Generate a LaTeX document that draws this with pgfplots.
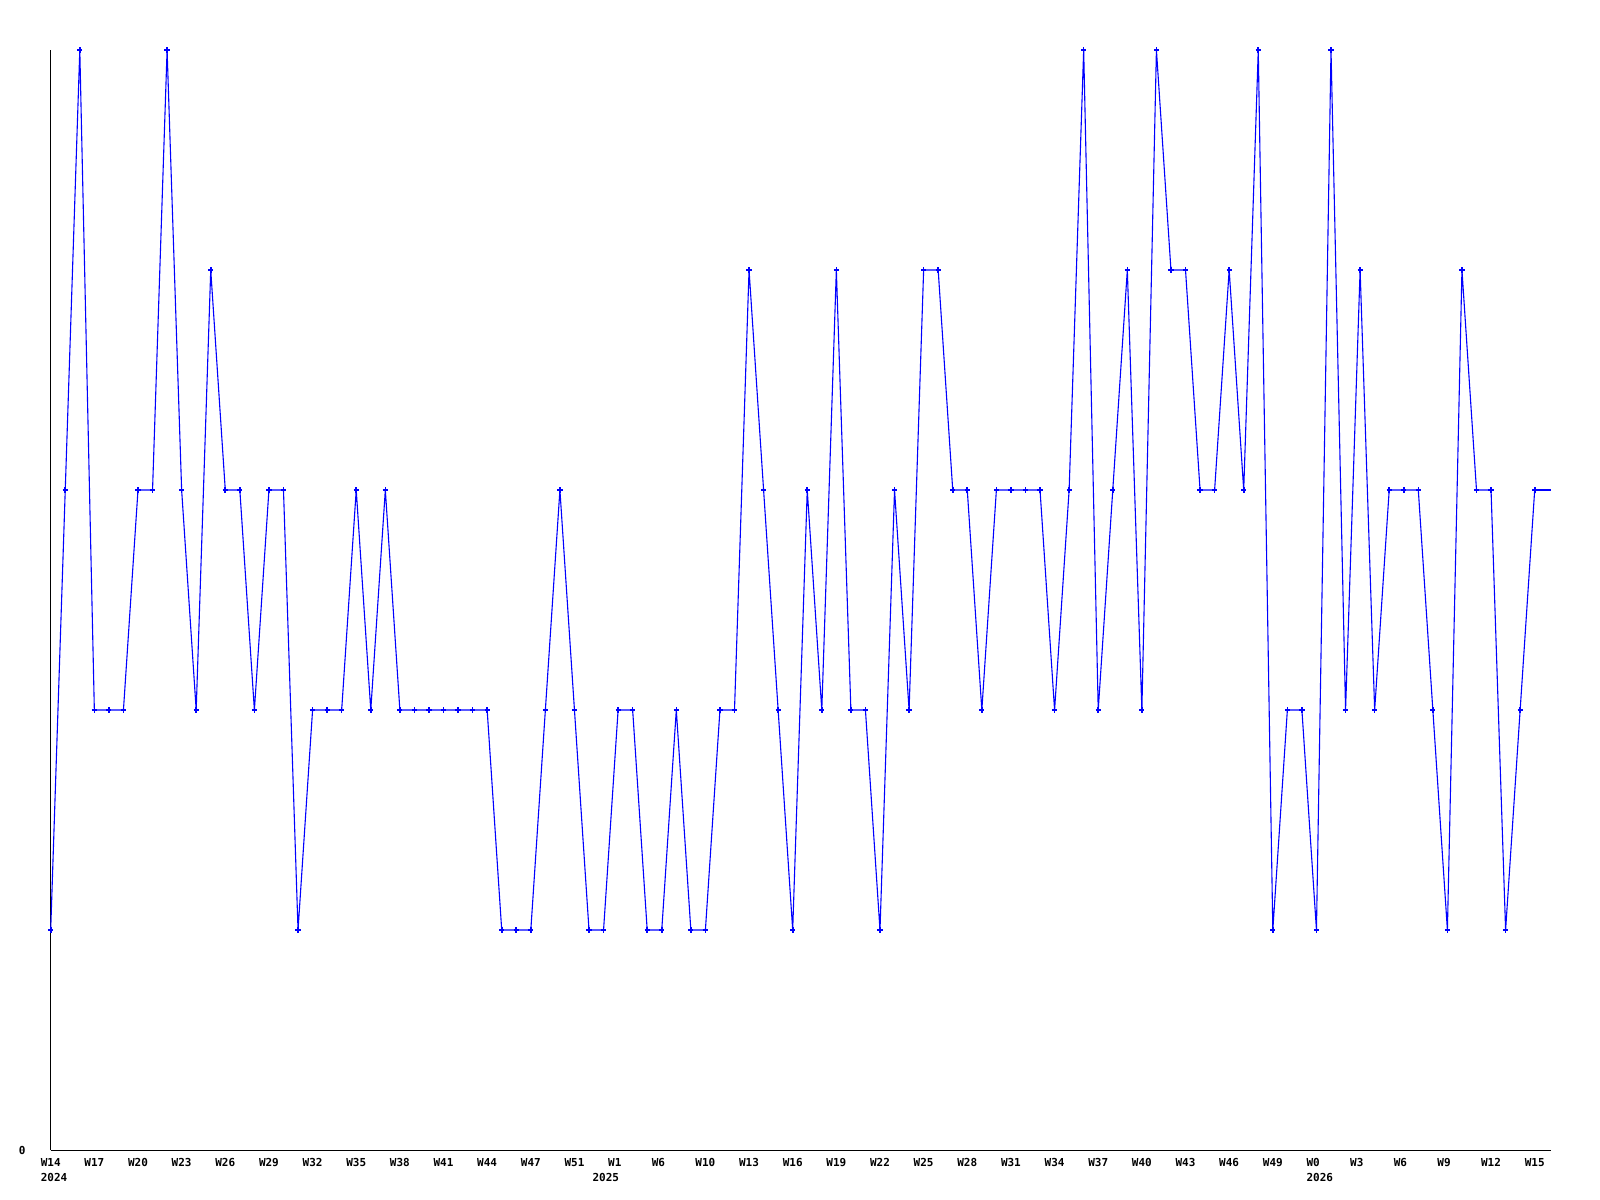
\documentclass[border=0pt]{standalone}
\usepackage{fontspec}
\setmonofont{DejaVu Sans Mono}
\usepackage{pgfplots}
\pgfplotsset{compat=1.18}
\definecolor{lineblue}{RGB}{0,0,255}

\begin{document}
\begin{tikzpicture}
\useasboundingbox (0,0) rectangle (1600bp,1200bp);
\begin{axis}[
  at={(50.7bp,50bp)}, anchor=south west,
  scale only axis, width=1500bp, height=1100bp,
  xmin=0, xmax=103.1, ymin=0, ymax=5,
  axis lines*=left,
  axis line style={-, black, line width=1bp},
  major tick length=0pt,
  tick label style={font=\fontsize{11bp}{13bp}\selectfont\ttfamily\bfseries, inner sep=0pt},
  ytick={0}, yticklabels={0},
  yticklabel style={anchor=east, xshift=-25bp},
  xtick={0,3,...,102},
  xticklabels={W14,W17,W20,W23,W26,W29,W32,W35,W38,W41,W44,W47,W51,
    W1\hphantom{0},W6\hphantom{0},W10,W13,W16,W19,W22,W25,W28,W31,W34,W37,W40,W43,W46,W49,
    W0\hphantom{0},W3\hphantom{0},W6\hphantom{0},W9\hphantom{0},W12,W15},
  xticklabel style={anchor=north, yshift=-8bp},
  extra x ticks={0,39,87},
  extra x tick labels={\hphantom{0}2024,2025\hspace*{24.5bp},\hphantom{0}2026},
  extra x tick style={tick label style={anchor=north, yshift=-14.7bp}},
  clip=false,
]
\addplot[lineblue, line width=1.1bp, mark=+, mark size=2.6bp,
  mark options={line width=1.6bp}] coordinates {
  (0,1)(1,3)(2,5)(3,2)(4,2)(5,2)(6,3)(7,3)(8,5)(9,3)
  (10,2)(11,4)(12,3)(13,3)(14,2)(15,3)(16,3)(17,1)(18,2)(19,2)
  (20,2)(21,3)(22,2)(23,3)(24,2)(25,2)(26,2)(27,2)(28,2)(29,2)
  (30,2)(31,1)(32,1)(33,1)(34,2)(35,3)(36,2)(37,1)(38,1)(39,2)
  (40,2)(41,1)(42,1)(43,2)(44,1)(45,1)(46,2)(47,2)(48,4)(49,3)
  (50,2)(51,1)(52,3)(53,2)(54,4)(55,2)(56,2)(57,1)(58,3)(59,2)
  (60,4)(61,4)(62,3)(63,3)(64,2)(65,3)(66,3)(67,3)(68,3)(69,2)
  (70,3)(71,5)(72,2)(73,3)(74,4)(75,2)(76,5)(77,4)(78,4)(79,3)
  (80,3)(81,4)(82,3)(83,5)(84,1)(85,2)(86,2)(87,1)(88,5)(89,2)
  (90,4)(91,2)(92,3)(93,3)(94,3)(95,2)(96,1)(97,4)(98,3)(99,3)
  (100,1)(101,2)(102,3)
};
% the line runs on to the right end of the axis without a mark
\addplot[lineblue, line width=1.1bp, mark=none] coordinates {(102,3)(103.1,3)};
\end{axis}
\end{tikzpicture}
\end{document}
